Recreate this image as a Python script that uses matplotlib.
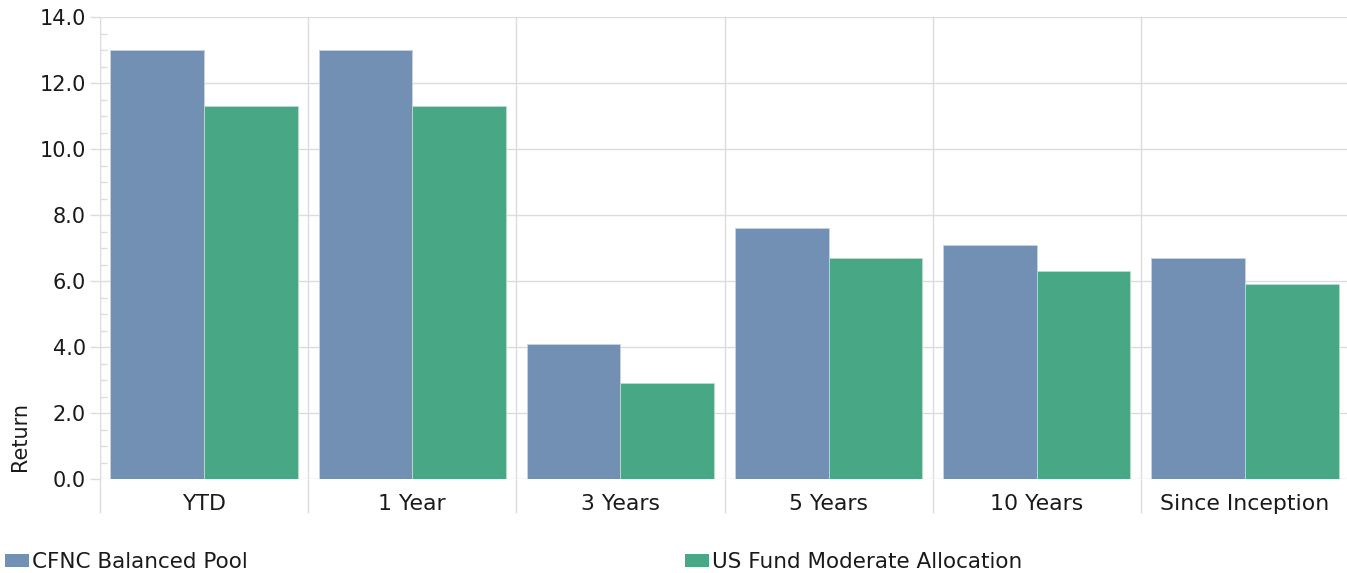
import numpy as np
import matplotlib.pyplot as plt
from matplotlib.patches import Patch
from matplotlib.ticker import MultipleLocator, FixedLocator

categories = ["YTD", "1 Year", "3 Years", "5 Years", "10 Years", "Since Inception"]
cfnc_balanced = [13.0, 13.0, 4.1, 7.6, 7.1, 6.7]
us_fund_moderate = [11.3, 11.3, 2.9, 6.7, 6.3, 5.9]
series_names = ["CFNC Balanced Pool", "US Fund Moderate Allocation"]

blue = "#7290b4"
green = "#48a886"
grid_col = "#dcdcdc"
text_col = "#1a1a1a"

plt.rcParams["font.family"] = ["DejaVu Sans"]
plt.rcParams["font.size"] = 15

fig = plt.figure(figsize=(13.47, 5.73), dpi=100)
ax = fig.add_axes([100 / 1347, 94 / 573, 1249 / 1347, 462 / 573])

x = np.arange(len(categories))
w = 0.45
ax.bar(x - w / 2, cfnc_balanced, width=w, color=blue, edgecolor="#c8d3e2", linewidth=0.6, zorder=3)
ax.bar(x + w / 2, us_fund_moderate, width=w, color=green, edgecolor="#b5ddd0", linewidth=0.6, zorder=3)

ax.set_xlim(-0.5, len(categories) - 0.5)
ax.set_ylim(0, 14)

# y axis: major every 2, minor every 0.5 pointing inward
ax.yaxis.set_minor_locator(MultipleLocator(0.5))
ax.set_yticks(np.arange(0, 14.1, 2))
ax.set_yticklabels([f"{v:.1f}" for v in np.arange(0, 14.1, 2)])
ax.tick_params(axis="y", which="major", length=7.2, width=1, color=grid_col, pad=3, labelcolor=text_col)
ax.tick_params(axis="y", which="minor", direction="in", length=5, width=1, color=grid_col)

# x axis: labels at centres, separators at boundaries
ax.set_xticks(x)
ax.set_xticklabels(categories, fontsize=15.8)
ax.xaxis.set_minor_locator(FixedLocator(np.arange(-0.5, len(categories), 1.0)))
ax.tick_params(axis="x", which="major", length=0, pad=11, labelcolor=text_col)
ax.tick_params(axis="x", which="minor", length=24.5, width=1, color=grid_col)

ax.grid(axis="y", which="major", color=grid_col, linewidth=1, zorder=0)
ax.grid(axis="x", which="minor", color=grid_col, linewidth=1, zorder=0)
ax.set_axisbelow(True)

for side in ["top", "right", "bottom"]:
    ax.spines[side].set_visible(False)
ax.spines["left"].set_color(grid_col)

ax.set_ylabel("Return", color=text_col)
ax.yaxis.set_label_coords(-70 / 1249, 0.093)

handles = [Patch(facecolor=blue), Patch(facecolor=green)]
for h, name, xpos in zip(handles, series_names, [5, 685]):
    fig.legend([h], [name], loc="center left", bbox_to_anchor=(xpos / 1347, 1 - 562 / 573),
               frameon=False, borderpad=0, borderaxespad=0, handlelength=1.1,
               handleheight=0.55, handletextpad=0.15, fontsize=15.5, labelcolor=text_col)

fig.savefig("out.png", dpi=100)
